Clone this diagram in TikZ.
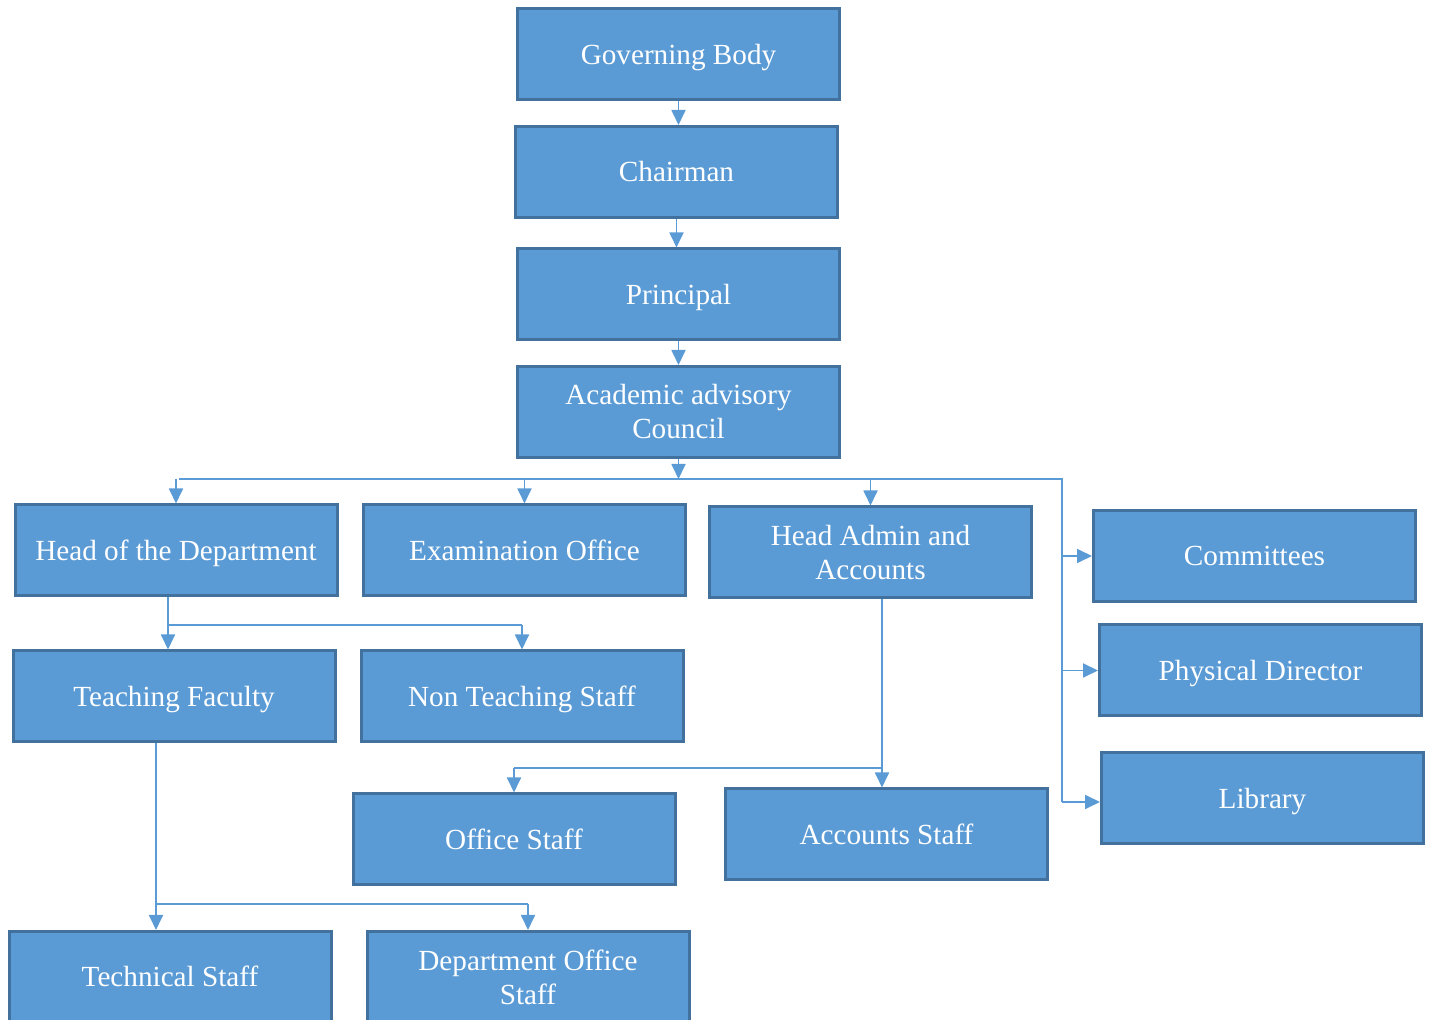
\documentclass[tikz,border=0pt]{standalone}
\usepackage{fontspec}
\setmainfont{Liberation Serif}
\usetikzlibrary{arrows.meta}
\definecolor{boxfill}{RGB}{91,155,213}
\definecolor{boxline}{RGB}{65,113,156}

\begin{document}
\begin{tikzpicture}[x=0.5pt,y=-0.5pt]
    \tikzstyle{unit}=[fill=boxfill,draw=boxline,line width=1.5pt,minimum width=161pt,minimum height=45.5pt,inner sep=0pt,text=white,align=center,font=\fontsize{14.6}{17}\selectfont]
    \tikzstyle{one}=[text height=13pt,text depth=3.2pt]
    \tikzstyle{fwd}=[draw=boxfill,line width=0.9pt,-{Triangle[width=7pt,length=7.5pt]}]
    \tikzstyle{link}=[draw=boxfill,line width=0.6pt]

    \useasboundingbox (0,0) rectangle (1432,1020);

    \node[unit,one]  (gb)    at (678.5,54.5)  {Governing Body};
    \node[unit,one]  (chair) at (676.5,172)   {Chairman};
    \node[unit,one]  (princ) at (678.5,294.5) {Principal};
    \node[unit]      (aac)   at (678.5,412)   {Academic advisory\\Council};

    \node[unit,one]  (hod)   at (176,550.5)   {Head of the Department};
    \node[unit,one]  (exam)  at (524.5,550.5) {Examination Office};
    \node[unit]      (admin) at (870.5,552.5) {Head Admin and\\Accounts};
    \node[unit,one]  (comm)  at (1254.5,556)  {Committees};
    \node[unit,one]  (phys)  at (1260.5,670.5) {Physical Director};
    \node[unit,one]  (lib)   at (1262.5,798.5) {Library};

    \node[unit,one]  (teach) at (174,696.5)   {Teaching Faculty};
    \node[unit,one]  (nont)  at (522,696.5)   {Non Teaching Staff};
    \node[unit,one]  (office) at (514,839.5)  {Office Staff};
    \node[unit,one]  (acc)   at (886.5,834.5) {Accounts Staff};
    \node[unit,one]  (tech)  at (170,977)     {Technical Staff};
    \node[unit]      (dept)  at (528,977)     {Department Office\\Staff};

    \coordinate (busL)   at (179,479);
    \coordinate (busR)   at (1062,479);
    \coordinate (busB)   at (1062,802);
    \coordinate (hodJ)   at (168,625);
    \coordinate (teachJ) at (156,904);
    \coordinate (adminJ) at (882,768);

   \draw [fwd] (gb.south) -- (gb.south |- chair.north);
   \draw [fwd] (chair.south) -- (chair.south |- princ.north);
   \draw [fwd] (princ.south) -- (princ.south |- aac.north);

   \draw [link] (busL) -- (busR) -- (busB);
   \draw [fwd] (aac.south) -- (aac.south |- busL);
   \draw [fwd] (hod.north |- busL) -- (hod.north);
   \draw [fwd] (exam.north |- busL) -- (exam.north);
   \draw [fwd] (admin.north |- busL) -- (admin.north);
   \draw [fwd] (busR |- comm.west) -- (comm.west);
   \draw [fwd] (busR |- phys.west) -- (phys.west);
   \draw [fwd] (busB) -- (busB -| lib.west);

   \draw [link] (hod.south -| hodJ) -- (hodJ) -- (hodJ -| nont.north);
   \draw [fwd] (hodJ) -- (teach.north -| hodJ);
   \draw [fwd] (hodJ -| nont.north) -- (nont.north);

   \draw [fwd] (teach.south -| teachJ) -- (tech.north -| teachJ);
   \draw [link] (teachJ) -- (teachJ -| dept.north);
   \draw [fwd] (teachJ -| dept.north) -- (dept.north);

   \draw [fwd] (admin.south -| adminJ) -- (acc.north -| adminJ);
   \draw [link] (adminJ) -- (adminJ -| office.north);
   \draw [fwd] (adminJ -| office.north) -- (office.north);

\end{tikzpicture}
\end{document}
